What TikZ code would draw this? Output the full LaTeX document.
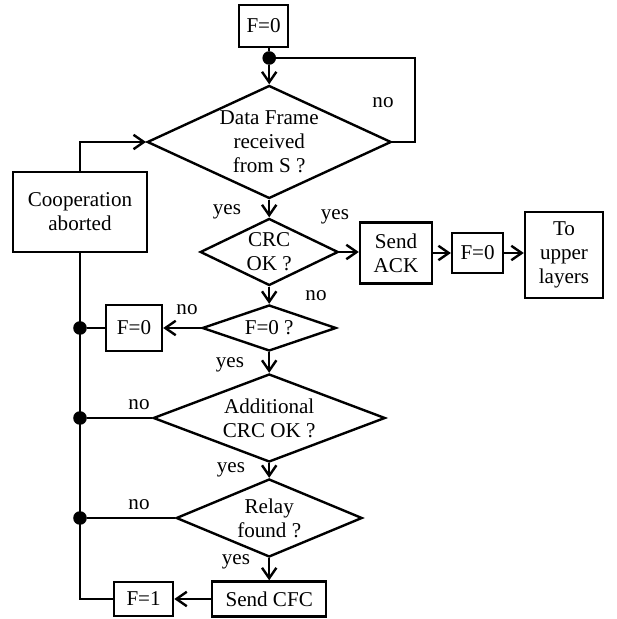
\documentclass[tikz,border=0pt]{standalone}
\usepackage{fontspec}
\setmainfont{Liberation Serif}
\usetikzlibrary{shapes.geometric, arrows.meta}

\tikzset{
	block/.style={draw, line width=0.6mm, inner sep=0pt, align=center},
	decision/.style={draw, diamond, line width=0.6mm, inner sep=0pt},
	joint/.style={circle, fill, inner sep=0pt, minimum size=3.4mm},
	flow/.style={line width=0.6mm},
}

\begin{document}
\begin{tikzpicture}[font=\fontsize{15}{17}\selectfont, >={Straight Barb[length=2.6mm, width=3.6mm]}]
	\useasboundingbox (0, 0) rectangle (15.4, 15.475);
	% main column
	\node[block, minimum width=1.225cm, minimum height=1.05cm] (init) at (6.59, 14.825) {F=0};
	\node[joint] (d0) at (6.73, 14.025) {};
	\coordinate (loop) at (10.375, 14.025);
	\node[decision, minimum width=6.1cm, minimum height=2.825cm, label={[align=center]center:Data Frame\\received\\from S ?}] (rx) at (6.73, 11.925) {};
	\node[decision, minimum width=3.45cm, minimum height=1.675cm, label={[align=center]center:CRC\\OK ?}] (crc) at (6.73, 9.175) {};
	\node[decision, minimum width=3.35cm, minimum height=1.15cm, label={center:F=0 ?}] (fchk) at (6.73, 7.275) {};
	\node[decision, minimum width=5.8cm, minimum height=2.2cm, label={[align=center]center:Additional\\CRC OK ?}] (addcrc) at (6.73, 5.025) {};
	\node[decision, minimum width=4.65cm, minimum height=1.95cm, label={[align=center]center:Relay\\found ?}] (relay) at (6.73, 2.525) {};
	\node[block, minimum width=2.85cm, minimum height=0.875cm] (cfc) at (6.73, 0.5) {Send CFC};

	% right row
	\node[block, minimum width=1.8cm, minimum height=1.525cm] (ack) at (9.9, 9.15) {Send\\ACK};
	\node[block, minimum width=1.275cm, minimum height=1.0cm] (fzero) at (11.94, 9.15) {F=0};
	\node[block, minimum width=1.95cm, minimum height=2.15cm] (upper) at (14.1, 9.1) {To\\upper\\layers};

	% left column
	\node[block, minimum width=3.35cm, minimum height=2.0cm] (abort) at (2.0, 10.175) {Cooperation\\aborted};
	\node[block, minimum width=1.4cm, minimum height=1.15cm] (freset) at (3.35, 7.275) {F=0};
	\node[block, minimum width=1.475cm, minimum height=0.85cm] (fone) at (3.59, 0.5) {F=1};
	\node[joint] (d1) at (2.0, 7.275) {};
	\node[joint] (d2) at (2.0, 5.025) {};
	\node[joint] (d3) at (2.0, 2.525) {};
	\coordinate (corner) at (2.0, 0.5);

	% yes / no
	\node (nrx) at (9.575, 12.9) {no};
	\node (yrx) at (5.675, 10.175) {yes};
	\node (ycrc) at (8.375, 10.05) {yes};
	\node (ncrc) at (7.9, 8.075) {no};
	\node (nfchk) at (4.675, 7.725) {no};
	\node (yfchk) at (5.75, 6.35) {yes};
	\node (nadd) at (3.475, 5.35) {no};
	\node (yadd) at (5.775, 3.725) {yes};
	\node (nrelay) at (3.475, 2.85) {no};
	\node (yrelay) at (5.9, 1.425) {yes};

	% connectors
	\draw[flow] (init.south -| d0) -- (d0);
	\draw[flow, ->] (d0) -- (rx.north);
	\draw[flow] (rx.east) -| (loop) -- (d0);
	\draw[flow, ->] (rx.south) -- (crc.north);
	\draw[flow, ->] (crc.east) -- (crc.east -| ack.west);
	\draw[flow, ->] (ack.east) -- (fzero.west);
	\draw[flow, ->] (fzero.east) -- (fzero.east -| upper.west);
	\draw[flow, ->] (crc.south) -- (fchk.north);
	\draw[flow, ->] (fchk.west) -- (freset.east);
	\draw[flow] (freset.west) -- (d1);
	\draw[flow, ->] (fchk.south) -- (addcrc.north);
	\draw[flow] (addcrc.west) -- (d2);
	\draw[flow, ->] (addcrc.south) -- (relay.north);
	\draw[flow] (relay.west) -- (d3);
	\draw[flow, ->] (relay.south) -- (cfc.north);
	\draw[flow, ->] (cfc.west) -- (fone.east);
	\draw[flow] (fone.west) -- (corner) -- (abort.south);
	\draw[flow, ->] (abort.north) |- (rx.west);
\end{tikzpicture}
\end{document}
